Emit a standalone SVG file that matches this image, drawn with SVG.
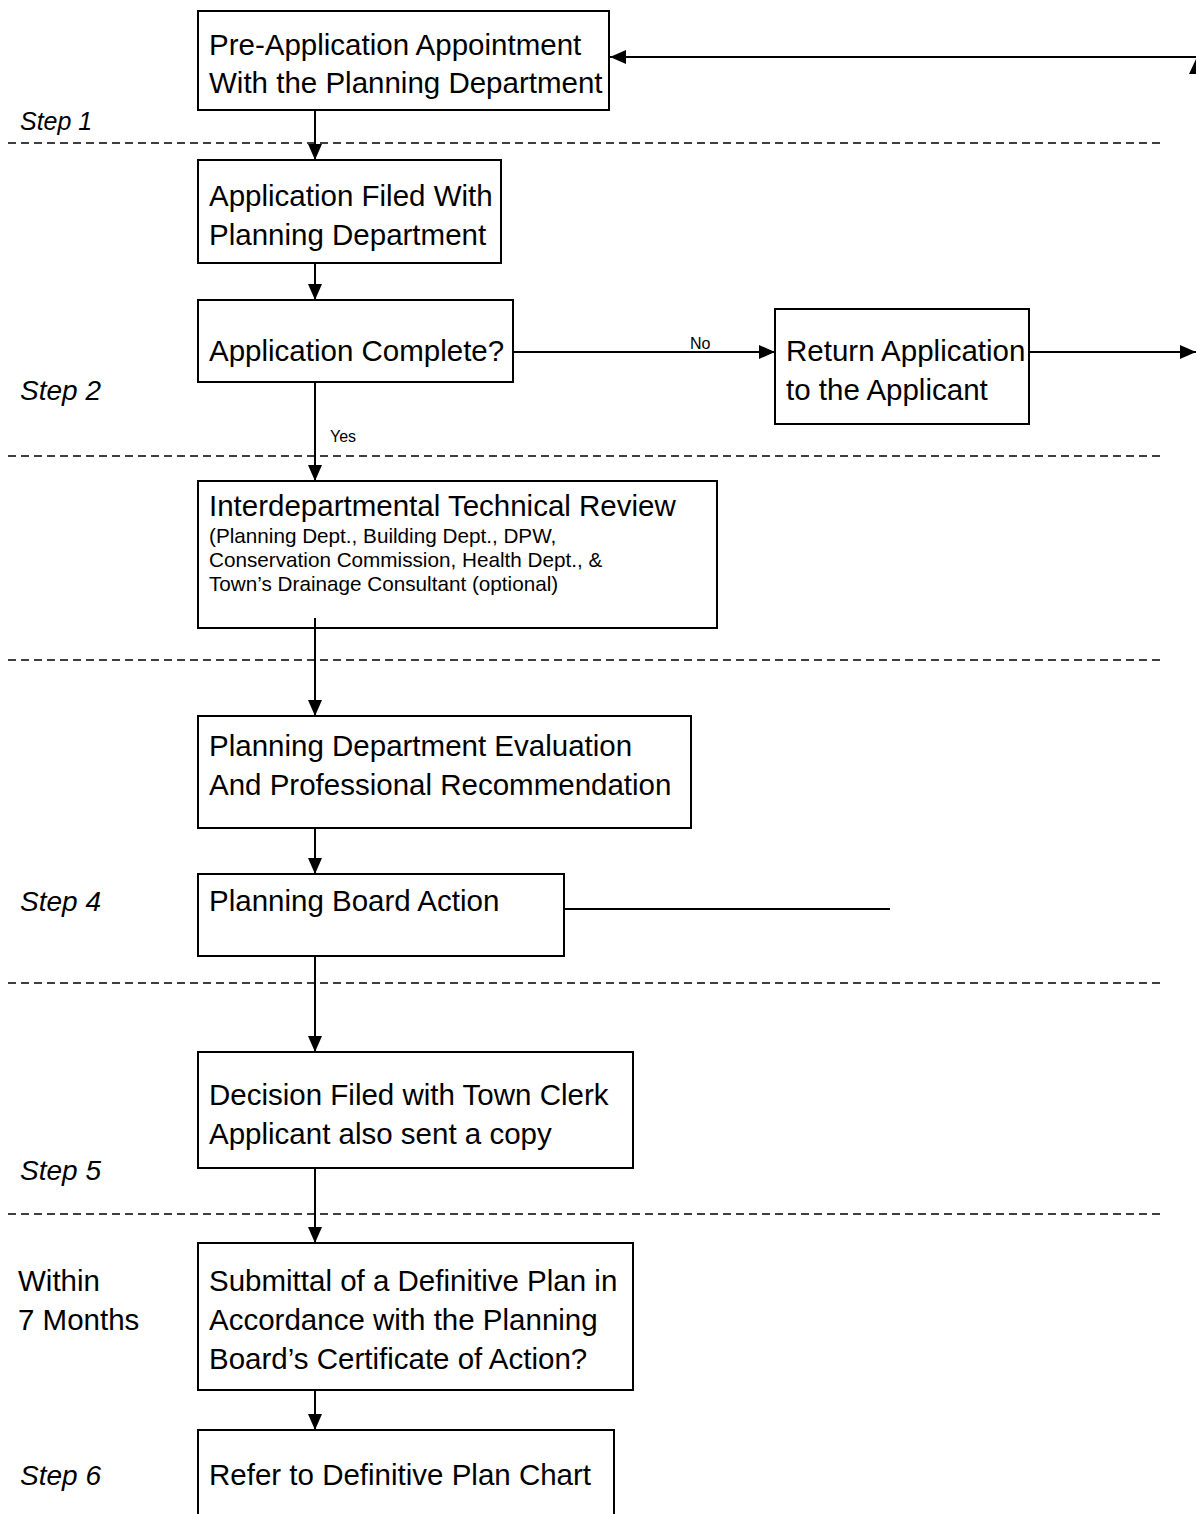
<svg xmlns="http://www.w3.org/2000/svg" width="1196" height="1514" viewBox="0 0 1196 1514">
<style>
.box{fill:#fff;stroke:#000;stroke-width:2}
.t{font-family:"Liberation Sans",Arial,sans-serif;font-size:29.5px;fill:#000}
.s{font-family:"Liberation Sans",Arial,sans-serif;font-size:20.7px;fill:#000}
.lbl{font-family:"Liberation Sans",Arial,sans-serif;font-size:16px;fill:#000}
.step{font-family:"Liberation Sans",Arial,sans-serif;font-size:28px;font-style:italic;fill:#000}
.dash{stroke:#000;stroke-width:1.5;stroke-dasharray:8 5;fill:none}
.c{stroke:#000;stroke-width:2;fill:none}
</style>
<defs>
<marker id="ah" viewBox="0 0 16 14" refX="16" refY="7" markerWidth="16" markerHeight="14" markerUnits="userSpaceOnUse" orient="auto">
<path d="M0,0 L16,7 L0,14 Z" fill="#000"/>
</marker>
</defs>
<rect width="1196" height="1514" fill="#fff"/>
<g id="separators">
<line class="dash" x1="8" y1="143" x2="1160" y2="143"/>
<line class="dash" x1="8" y1="456" x2="1160" y2="456"/>
<line class="dash" x1="8" y1="660" x2="1160" y2="660"/>
<line class="dash" x1="8" y1="983" x2="1160" y2="983"/>
<line class="dash" x1="8" y1="1214" x2="1160" y2="1214"/>
</g>
<g id="steps">
<text class="step" x="20" y="130" style="font-size:25px">Step 1</text>
<text class="step" x="20" y="400">Step 2</text>
<text class="step" x="20" y="911">Step 4</text>
<text class="step" x="20" y="1180">Step 5</text>
<text class="t" x="18" y="1291">Within</text>
<text class="t" x="18" y="1330">7 Months</text>
<text class="step" x="20" y="1485">Step 6</text>
</g>
<g id="connectors">
<line class="c" x1="315" y1="110" x2="315" y2="160" marker-end="url(#ah)"/>
<line class="c" x1="315" y1="263" x2="315" y2="300" marker-end="url(#ah)"/>
<line class="c" x1="315" y1="382" x2="315" y2="481" marker-end="url(#ah)"/>
<text class="lbl" x="330" y="442">Yes</text>
<line class="c" x1="513" y1="352" x2="775" y2="352" marker-end="url(#ah)"/>
<text class="lbl" x="690" y="349">No</text>
<line class="c" x1="1029" y1="352" x2="1196" y2="352" marker-end="url(#ah)"/>
<line class="c" x1="1196" y1="57" x2="610" y2="57" marker-end="url(#ah)"/>
<polygon points="1196,59 1189,74 1203,74" fill="#000"/>
<line class="c" x1="315" y1="618" x2="315" y2="716" marker-end="url(#ah)"/>
<line class="c" x1="315" y1="828" x2="315" y2="874" marker-end="url(#ah)"/>
<line class="c" x1="564" y1="909" x2="890" y2="909"/>
<line class="c" x1="315" y1="956" x2="315" y2="1052" marker-end="url(#ah)"/>
<line class="c" x1="315" y1="1168" x2="315" y2="1243" marker-end="url(#ah)"/>
<line class="c" x1="315" y1="1390" x2="315" y2="1430" marker-end="url(#ah)"/>
</g>
<g id="n1">
<rect class="box" x="198" y="11" width="411" height="99"/>
<text class="t" x="209" y="55">Pre-Application Appointment</text>
<text class="t" x="209" y="93">With the Planning Department</text>
</g>
<g id="n2">
<rect class="box" x="198" y="160" width="303" height="103"/>
<text class="t" x="209" y="206">Application Filed With</text>
<text class="t" x="209" y="245">Planning Department</text>
</g>
<g id="n3">
<rect class="box" x="198" y="300" width="315" height="82"/>
<text class="t" x="209" y="361">Application Complete?</text>
</g>
<g id="n4">
<rect class="box" x="775" y="309" width="254" height="115"/>
<text class="t" x="786" y="361">Return Application</text>
<text class="t" x="786" y="400">to the Applicant</text>
</g>
<g id="n5">
<rect class="box" x="198" y="481" width="519" height="147"/>
<text class="t" x="209" y="516">Interdepartmental Technical Review</text>
<text class="s" x="209" y="543">(Planning Dept., Building Dept., DPW,</text>
<text class="s" x="209" y="567">Conservation Commission, Health Dept., &amp;</text>
<text class="s" x="209" y="591">Town’s Drainage Consultant (optional)</text>
</g>
<line class="c" x1="315" y1="618" x2="315" y2="628"/>
<g id="n6">
<rect class="box" x="198" y="716" width="493" height="112"/>
<text class="t" x="209" y="756">Planning Department Evaluation</text>
<text class="t" x="209" y="795">And Professional Recommendation</text>
</g>
<g id="n7">
<rect class="box" x="198" y="874" width="366" height="82"/>
<text class="t" x="209" y="911">Planning Board Action</text>
</g>
<g id="n8">
<rect class="box" x="198" y="1052" width="435" height="116"/>
<text class="t" x="209" y="1105">Decision Filed with Town Clerk</text>
<text class="t" x="209" y="1144">Applicant also sent a copy</text>
</g>
<g id="n9">
<rect class="box" x="198" y="1243" width="435" height="147"/>
<text class="t" x="209" y="1291">Submittal of a Definitive Plan in</text>
<text class="t" x="209" y="1330">Accordance with the Planning</text>
<text class="t" x="209" y="1369">Board’s Certificate of Action?</text>
</g>
<g id="n10">
<rect class="box" x="198" y="1430" width="416" height="100"/>
<text class="t" x="209" y="1485">Refer to Definitive Plan Chart</text>
</g>
</svg>
